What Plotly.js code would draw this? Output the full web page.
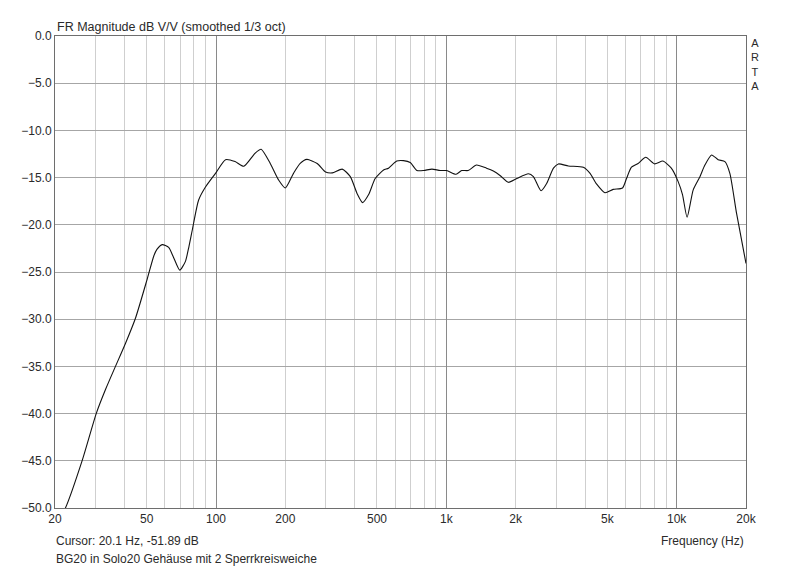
<!DOCTYPE html>
<html>
<head>
<meta charset="utf-8">
<script src="https://cdn.plot.ly/plotly-3.0.1.min.js"></script>
<style>html,body{margin:0;padding:0;background:#fff;}#chart{width:800px;height:569px;}</style>
</head>
<body>
<div id="chart"></div>
<script>
// Frequency (Hz) and magnitude (dB)
const freqHz = [20.1, 22.2, 26.3, 30.2, 33.2, 36.6, 40.4, 44.7, 50.2, 53.7, 55.4, 58.4, 62.3, 65.3, 69.6, 73.6, 76.3, 78.9, 84, 90, 99.5,
  110, 121, 132, 148, 157, 172, 187, 200, 217, 232, 248, 275, 299, 320, 353, 383, 410, 433, 460, 491, 534, 561, 609, 652,
  697, 746, 797, 866, 940, 1003, 1102, 1166, 1244, 1352, 1494, 1600, 1716, 1860, 2022, 2272, 2388, 2578, 2730, 2918, 3066,
  3386, 3934, 4208, 4496, 4882, 5302, 5820, 6056, 6364, 6800, 7340, 8020, 8720, 9480, 10140, 10600, 11100, 11800, 12620,
  13260, 14180, 15140, 16200, 17020, 18200, 20000];
const magDb = [-51.89, -50.0, -44.9, -40.0, -37.4, -35.0, -32.6, -29.9, -25.8, -23.3, -22.6, -22.1, -22.4, -23.4, -24.8, -23.9, -22.3, -20.55, -17.4, -16.0, -14.55,
  -13.1, -13.3, -13.8, -12.4, -12.0, -13.5, -15.25, -16.1, -14.55, -13.5, -13.07, -13.5, -14.4, -14.5, -14.1, -14.9, -16.7, -17.65, -16.8, -15.1, -14.2, -14.0, -13.25, -13.2,
  -13.4, -14.25, -14.25, -14.1, -14.25, -14.25, -14.65, -14.25, -14.25, -13.67, -14.0, -14.3, -14.8, -15.5, -15.1, -14.6, -14.9, -16.4, -15.6, -14.0, -13.55,
  -13.77, -13.9, -14.55, -15.7, -16.6, -16.25, -16.1, -15.1, -13.9, -13.5, -12.85, -13.55, -13.25, -14.0, -15.4, -16.8, -19.2, -16.3, -14.9,
  -13.67, -12.6, -13.1, -13.3, -14.55, -18.8, -24.1];

const xTickVals = [20, 50, 100, 200, 500, 1000, 2000, 5000, 10000, 20000];
const xTickText = ['20', '50', '100', '200', '500', '1k', '2k', '5k', '10k', '20k'];
const xMinorVals = [30, 40, 60, 70, 80, 90, 300, 400, 600, 700, 800, 900, 3000, 4000, 6000, 7000, 8000, 9000];
const xDecadeVals = [100, 1000, 10000];
const yTickVals = [0, -5, -10, -15, -20, -25, -30, -35, -40, -45, -50];

const chartTitle = 'FR Magnitude dB V/V (smoothed 1/3 oct)';
const cursorText = 'Cursor: 20.1 Hz, -51.89 dB';
const noteText = 'BG20 in Solo20 Gehäuse mit 2 Sperrkreisweiche';
const xLabel = 'Frequency (Hz)';
const brandLetters = ['A', 'R', 'T', 'A'];

const FONT = 'Liberation Sans, Arial, sans-serif';
const TXT = '#2a2a2a';

const traces = [
  {x: freqHz, y: magDb, type: 'scatter', mode: 'lines', xaxis: 'x', yaxis: 'y',
   line: {color: '#111', width: 1.1, shape: 'spline', smoothing: 0.6}, hoverinfo: 'x+y'},
  {x: freqHz, y: magDb, type: 'scatter', mode: 'lines', xaxis: 'x2', yaxis: 'y',
   line: {color: 'rgba(0,0,0,0)', width: 0}, hoverinfo: 'skip', showlegend: false}
];

const xr = [Math.log10(20), Math.log10(20000)];

const annotations = [
  {text: chartTitle, xref: 'paper', yref: 'paper', x: 0, y: 1, xanchor: 'left', yanchor: 'bottom',
   showarrow: false, font: {family: FONT, size: 12.5, color: TXT}},
  {text: xLabel, xref: 'paper', yref: 'paper', x: 1, y: 0, xanchor: 'right', yanchor: 'top',
   yshift: -24, showarrow: false, font: {family: FONT, size: 12, color: TXT}},
  {text: cursorText, xref: 'paper', yref: 'paper', x: 0, y: 0, xanchor: 'left', yanchor: 'top',
   xshift: -1, yshift: -24, showarrow: false, font: {family: FONT, size: 12, color: TXT}},
  {text: noteText, xref: 'paper', yref: 'paper', x: 0, y: 0, xanchor: 'left', yanchor: 'top',
   xshift: -1, yshift: -42, showarrow: false, font: {family: FONT, size: 12, color: TXT}},
  {text: brandLetters.join('<br>'), xref: 'paper', yref: 'paper', x: 1, y: 1, xanchor: 'center', yanchor: 'top',
   xshift: 8.5, yshift: 0, borderpad: 0, showarrow: false, align: 'center', font: {family: FONT, size: 11, color: TXT}}
];

const layout = {
  width: 800, height: 569,
  margin: {l: 55, r: 54, t: 36, b: 61},
  paper_bgcolor: '#fff', plot_bgcolor: '#fff',
  showlegend: false,
  font: {family: FONT, size: 12, color: TXT},
  xaxis: {
    type: 'log', range: xr, tickmode: 'array', tickvals: xTickVals, ticktext: xTickText,
    showgrid: true, gridcolor: '#cfcfcf', gridwidth: 1,
    minor: {tickmode: 'array', tickvals: xMinorVals, showgrid: true, gridcolor: '#cfcfcf', gridwidth: 1, ticks: ''},
    showline: true, linecolor: '#6e6e6e', linewidth: 1, mirror: true,
    ticks: '', zeroline: false, tickfont: {family: FONT, size: 12, color: TXT}
  },
  xaxis2: {
    type: 'log', range: xr, overlaying: 'x', anchor: 'y', side: 'bottom',
    tickmode: 'array', tickvals: xDecadeVals, showticklabels: false, ticks: '',
    showgrid: true, gridcolor: '#8a8a8a', gridwidth: 1, showline: false, zeroline: false
  },
  yaxis: {
    range: [-50, 0], tickmode: 'array', tickvals: yTickVals, tickformat: '.1f',
    showgrid: true, gridcolor: '#a6a6a6', gridwidth: 1,
    showline: true, linecolor: '#6e6e6e', linewidth: 1, mirror: true,
    ticks: '', zeroline: false, tickfont: {family: FONT, size: 12, color: TXT}
  },
  annotations: annotations
};

Plotly.newPlot('chart', traces, layout, {staticPlot: true, displayModeBar: false});
</script>
</body>
</html>
